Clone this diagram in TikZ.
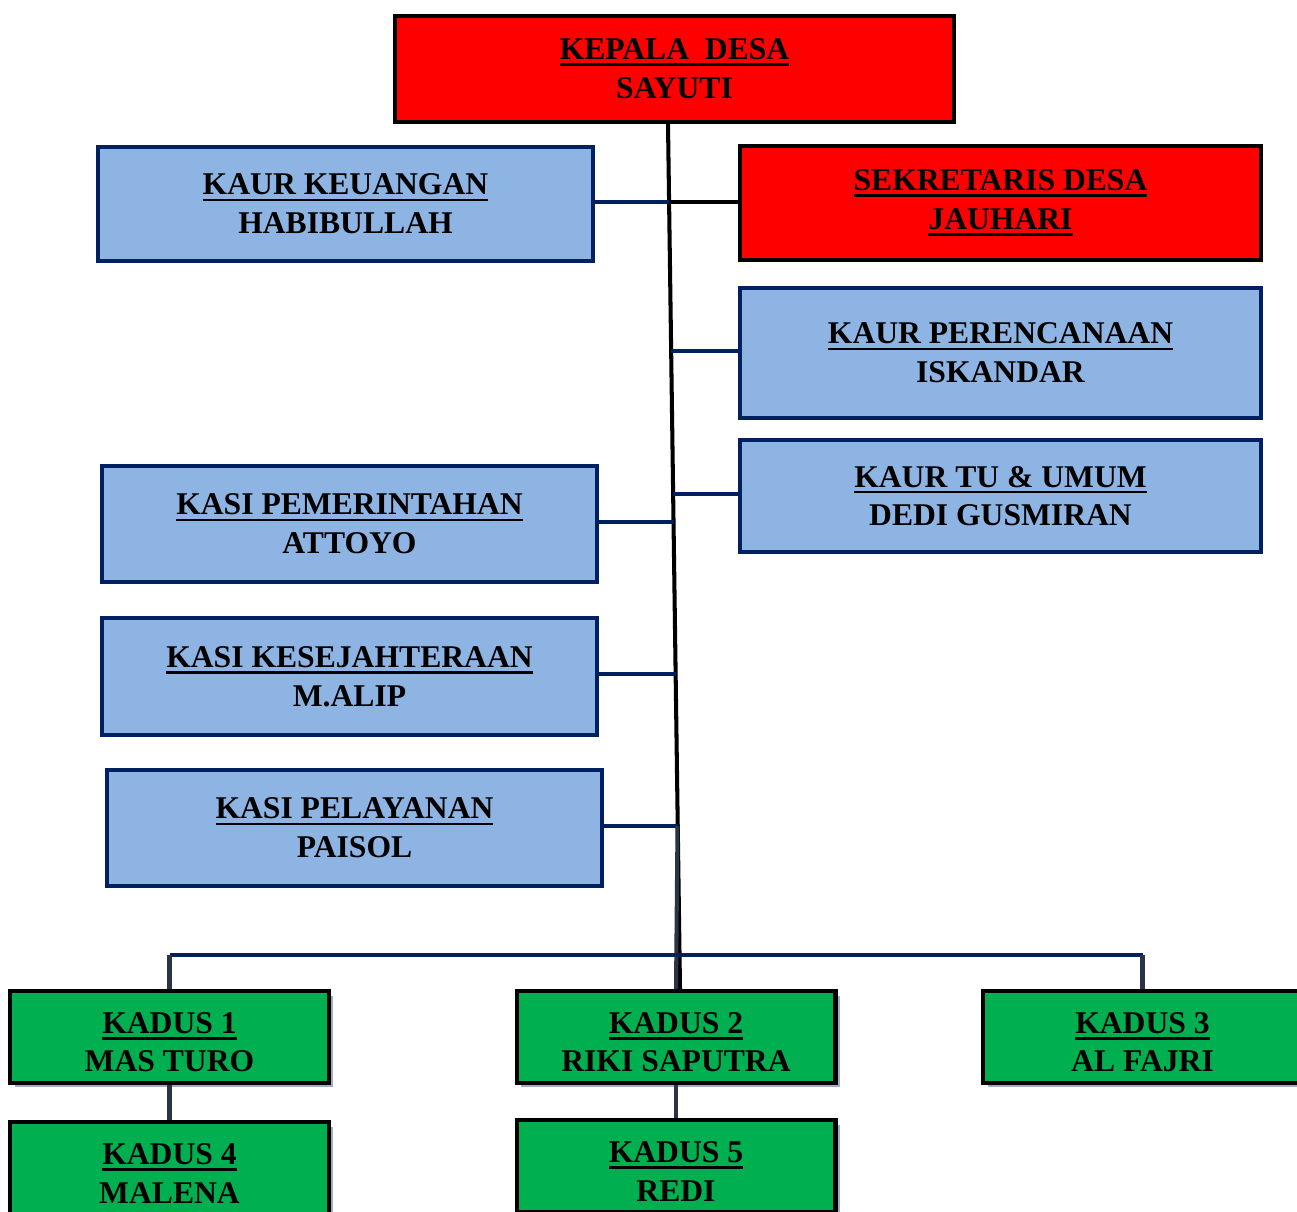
\documentclass[tikz,border=0pt]{standalone}
\usepackage{fontspec}
\setmainfont{Liberation Serif}
\usetikzlibrary{shadows}

\definecolor{kdred}{HTML}{FF0000}
\definecolor{kaurblue}{HTML}{8EB4E3}
\definecolor{navy}{HTML}{002060}
\definecolor{kadusgreen}{HTML}{00B050}
\definecolor{slate}{HTML}{2B3444}
\definecolor{shadowgray}{HTML}{A3ACC4}

\newsavebox{\ulsave}
\newcommand{\ulbox}[1]{\sbox\ulsave{#1}\rlap{\rule[-3.6pt]{\wd\ulsave}{1.6pt}}\usebox\ulsave}
\newcommand{\kadusname}[2]{\rule{0pt}{18pt}\ulbox{#1}\\#2}

\begin{document}
\begin{tikzpicture}[x=0.02cm,y=-0.02cm]
  \tikzset{every node/.style={align=center,font=\bfseries\fontsize{18}{22}\selectfont,inner sep=0pt},
    redbox/.style={draw=black,fill=kdred,line width=2.3pt},
    kaurbox/.style={draw=navy,fill=kaurblue,line width=2pt,minimum width=9.91cm},
    kadusbox/.style={draw=black,fill=kadusgreen,line width=2.3pt,minimum width=6.38cm,minimum height=1.84cm,
      drop shadow={shadow xshift=0.09cm,shadow yshift=-0.09cm,fill=shadowgray,opacity=1}},
    trunk/.style={draw=black,line width=2.3pt},
    navyline/.style={draw=navy,line width=2.1pt},
    slateline/.style={draw=slate,line width=2.3pt}}
  \useasboundingbox (0,0) rectangle (1297,1212);
  % kepala desa dan sekretaris
  \node[redbox,minimum width=11.18cm,minimum height=2.12cm] (kepala) at (674.5,69) {\ulbox{KEPALA\ \ DESA}\\SAYUTI};
  \node[redbox,minimum width=10.42cm,minimum height=2.28cm] (sekretaris) at (1000.5,203) {\ulbox{SEKRETARIS DESA}\\\ulbox{JAUHARI}};
  % kaur dan kasi
  \node[kaurbox,minimum height=2.29cm] (keuangan) at (345.5,204) {\ulbox{KAUR KEUANGAN}\\HABIBULLAH};
  \node[kaurbox,minimum width=10.43cm,minimum height=2.61cm] (perencanaan) at (1000.5,353) {\ulbox{KAUR PERENCANAAN}\\ISKANDAR};
  \node[kaurbox,minimum width=10.43cm,minimum height=2.25cm] (tu) at (1000.5,496) {\ulbox{KAUR TU \& UMUM}\\DEDI GUSMIRAN};
  \node[kaurbox,minimum height=2.33cm] (pemerintahan) at (349.5,524) {\ulbox{KASI PEMERINTAHAN}\\ATTOYO};
  \node[kaurbox,minimum height=2.35cm] (kesejahteraan) at (349.5,676.5) {\ulbox{KASI KESEJAHTERAAN}\\M.ALIP};
  \node[kaurbox,minimum height=2.33cm] (pelayanan) at (354.5,828) {\ulbox{KASI PELAYANAN}\\PAISOL};
  % kadus
  \node[kadusbox] (kadus1) at (169.5,1037) {\kadusname{KADUS 1}{MAS TURO}};
  \node[kadusbox] (kadus2) at (676,1037) {\kadusname{KADUS 2}{RIKI SAPUTRA}};
  \node[kadusbox] (kadus3) at (1142.5,1037) {\kadusname{KADUS 3}{AL FAJRI}};
  \node[kadusbox] (kadus4) at (169.5,1168) {\kadusname{KADUS 4}{MALENA}};
  \node[kadusbox] (kadus5) at (676,1166) {\kadusname{KADUS 5}{REDI}};
  % titik pada garis utama
  \coordinate (j1) at (669,202);
  \coordinate (j2) at (671,351);
  \coordinate (j3) at (673,494);
  \coordinate (j4) at (673.5,522);
  \coordinate (j5) at (675.5,674);
  \coordinate (j6) at (677.5,826);
  \coordinate (bus) at (679,955);
  % garis
  \path[trunk] ([xshift=-0.13cm]kepala.south) -- ([xshift=0.08cm]kadus2.north);
  \path[trunk] (j1) -- (j1 -| sekretaris.west);
  \path[navyline] (keuangan.east |- j1) -- (j1);
  \path[navyline] (j2) -- (j2 -| perencanaan.west);
  \path[navyline] (j3) -- (j3 -| tu.west);
  \path[navyline] (pemerintahan.east |- j4) -- (j4);
  \path[navyline] (kesejahteraan.east |- j5) -- (j5);
  \path[navyline] (pelayanan.east |- j6) -- (j6);
  \path[slateline] (j6) -- (kadus2.north);
  \path[navyline] (kadus1.north |- bus) -- (kadus3.north |- bus);
  \path[slateline] (kadus1.north |- bus) -- (kadus1.north);
  \path[slateline] (kadus3.north |- bus) -- (kadus3.north);
  \path[slateline] (kadus1.south) -- (kadus4.north);
  \path[slateline] (kadus2.south) -- (kadus5.north);
\end{tikzpicture}
\end{document}
